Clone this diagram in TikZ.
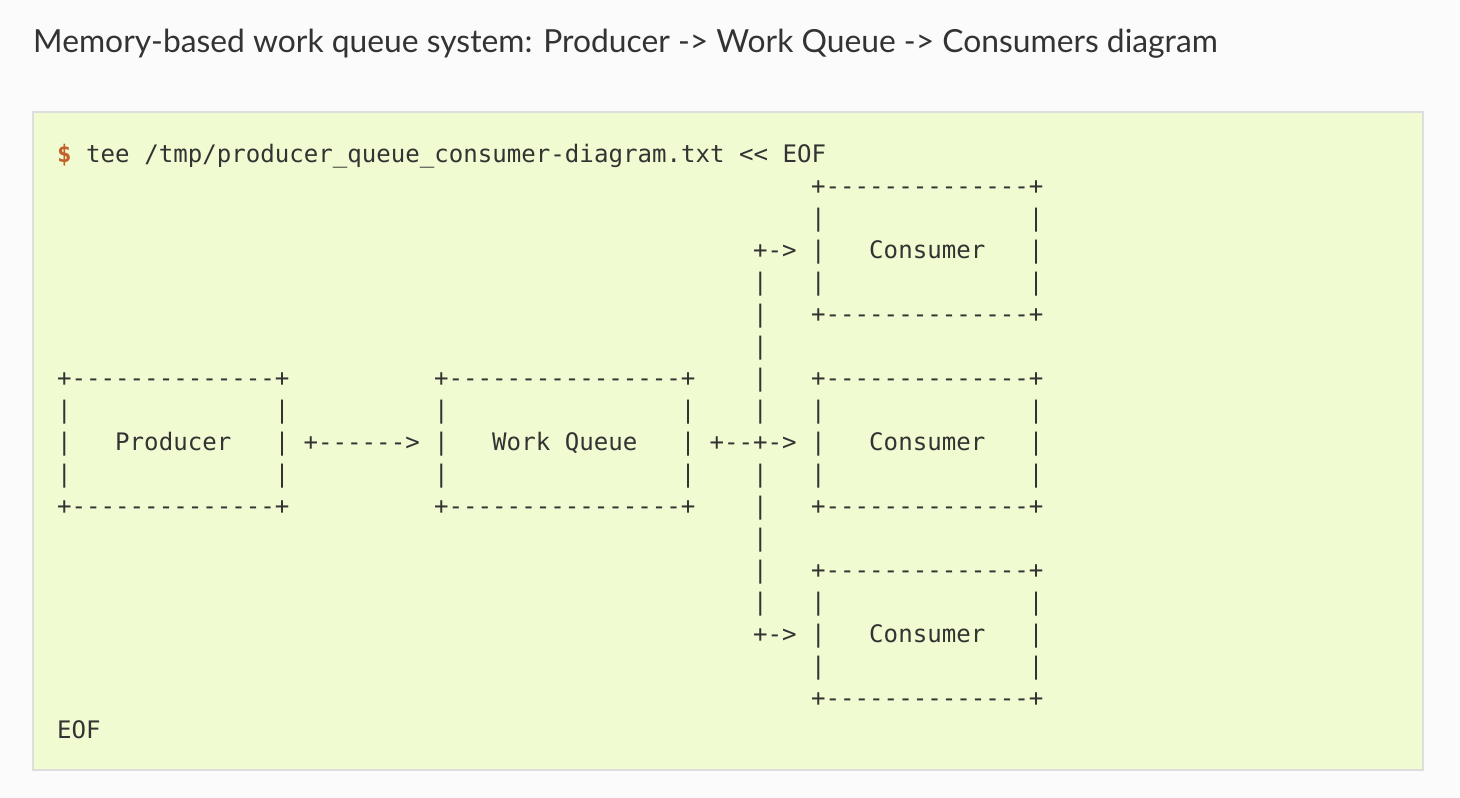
\documentclass[tikz,border=0pt]{standalone}
\usepackage{fontspec}
\setmonofont{DejaVu Sans Mono}
\newfontfamily\titlefont{Lato}
\usetikzlibrary{positioning}
\definecolor{pagegray}{RGB}{251,251,251}
\definecolor{termbg}{RGB}{241,251,209}
\definecolor{termframe}{RGB}{222,222,222}
\definecolor{termink}{RGB}{51,51,51}
\definecolor{promptorange}{RGB}{192,98,42}

\begin{document}
\begin{tikzpicture}[
  x=1pt, y=-1pt,
  panel/.style={draw=termframe, line width=2pt, fill=termbg, minimum width=1390pt, minimum height=658pt, inner sep=0pt},
  heading/.style={anchor=base west, inner sep=0pt, text=termink, font=\titlefont\fontsize{31.8}{38}\selectfont},
  ascii/.style={anchor=base west, inner sep=0pt, text=termink, align=left, font=\ttfamily\fontsize{24.1}{32}\selectfont}
]
  \fill[pagegray] (0,0) rectangle (1460,798);
  \node[heading] (title) at (33,52) {Memory-based work queue system: Producer -> Work Queue -> Consumers diagram};
  \node[panel] (terminal) at (728,441) {};

  % multi-line nodes sit on the baseline of their last row
  \begin{scope}[xshift=57pt, yshift=-162pt, x=14.5pt, y=-32pt]
    \node[ascii] (command) at (0,0) {{\bfseries\color{promptorange}\$}~tee~/tmp/producer\_queue\_consumer-diagram.txt~<<~EOF};

    % boxes
    \node[ascii] (producer) at (0,11) {+--------------+\\|~~~~~~~~~~~~~~|\\|~~~Producer~~~|\\|~~~~~~~~~~~~~~|\\+--------------+};
    \node[ascii] (queue) at (26,11) {+----------------+\\|~~~~~~~~~~~~~~~~|\\|~~~Work~Queue~~~|\\|~~~~~~~~~~~~~~~~|\\+----------------+};
    \foreach \name/\row in {consumerA/5, consumerB/11, consumerC/17}
      \node[ascii] (\name) at (52,\row) {+--------------+\\|~~~~~~~~~~~~~~|\\|~~~Consumer~~~|\\|~~~~~~~~~~~~~~|\\+--------------+};

    % links
    \node[ascii] (feed) at (17,9) {+------>};
    \node[ascii] (fanmid) at (45,9) {+--+->};
    \node[ascii] (fantop) at (48,8) {+->\\|\\|\\|\\|\\|};
    \node[ascii] (fanbot) at (48,15) {|\\|\\|\\|\\|\\+->};

    \node[ascii] (eof) at (0,18) {EOF};
  \end{scope}
\end{tikzpicture}
\end{document}
